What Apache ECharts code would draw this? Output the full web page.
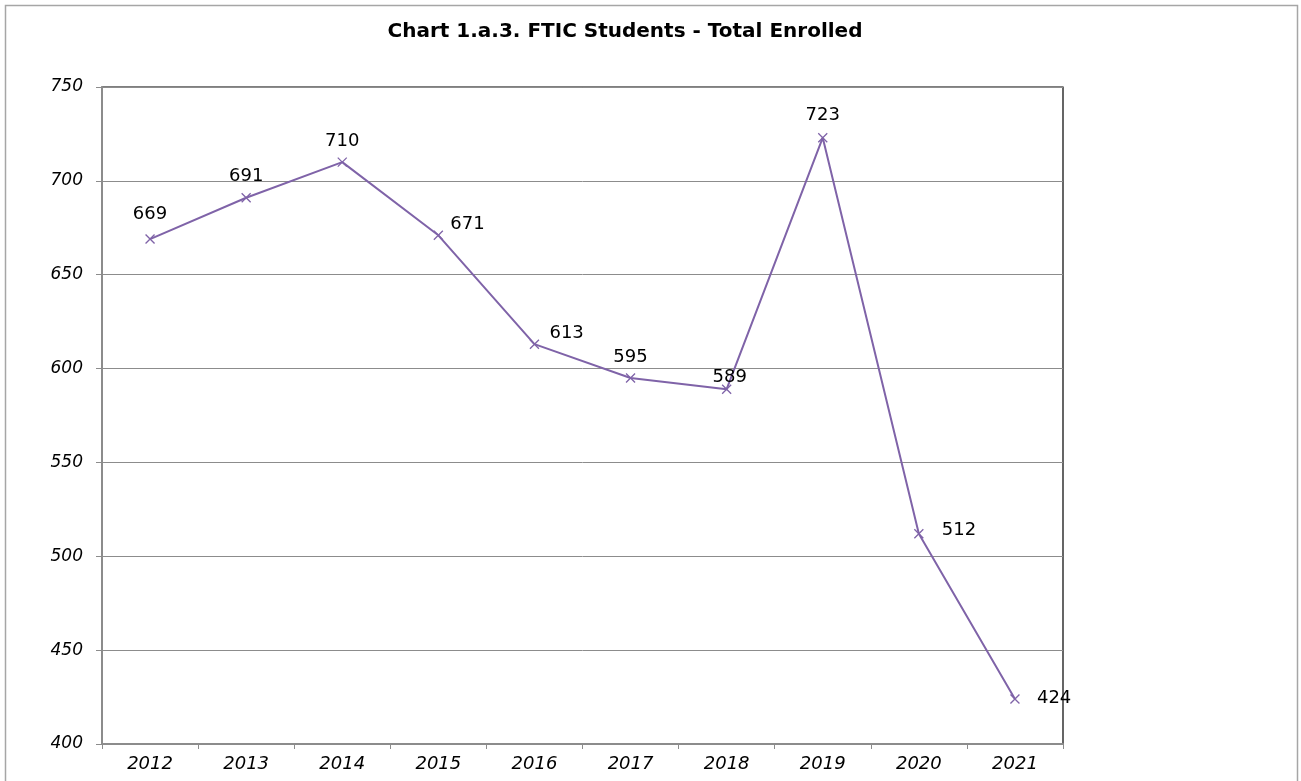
<!DOCTYPE html>
<html>
<head>
<meta charset="utf-8">
<script src="https://cdn.jsdelivr.net/npm/echarts@6/dist/echarts.min.js"></script>
<style>
  html, body { margin: 0; padding: 0; background: #fff; }
  #chart { width: 1301px; height: 781px; }
</style>
</head>
<body>
<div id="chart"></div>
<script>
// data
const years = ["2012", "2013", "2014", "2015", "2016", "2017", "2018", "2019", "2020", "2021"];
const enrolled = [669, 691, 710, 671, 613, 595, 589, 723, 512, 424];

// label placement per point, as Excel left them: [side, distance, dx, dy]
const labelPlace = [
  ["top", 9, 0, 0],
  ["top", 5, 0, 0],
  ["top", 5, 0, 0],
  ["right", 5, 0, -11],
  ["right", 8, 0, -11],
  ["top", 5, 0, 0],
  ["top", -4, 3, 0],
  ["top", 6, 0, 0],
  ["right", 16, 0, -3],
  ["right", 15, 0, -1],
];

const chart = echarts.init(document.getElementById("chart"));

const seriesData = enrolled.map((v, i) => {
  const p = labelPlace[i];
  return {
    value: v,
    label: { position: p[0], distance: p[1], offset: [p[2], p[3]] },
  };
});

chart.setOption({
  animation: false,
  textStyle: { fontFamily: "DejaVu Sans" },
  graphic: [{
    type: "rect",
    shape: { x: 5.5, y: 5.5, width: 1292, height: 800 },
    style: { fill: null, stroke: "#a6a6a6", lineWidth: 1.5 },
    silent: true,
  }],
  title: {
    text: "Chart 1.a.3. FTIC Students - Total Enrolled",
    left: 620,
    textAlign: "center",
    top: 17,
    textStyle: { fontSize: 20, fontWeight: "bold", color: "#000", fontFamily: "DejaVu Sans" },
  },
  grid: {
    left: 102, right: 238, top: 87, bottom: 37,
    show: true, borderColor: "#000", borderWidth: 1.2,
  },
  xAxis: {
    type: "category",
    data: years,
    boundaryGap: true,
    axisLine: { lineStyle: { color: "#8c8c8c", width: 2 } },
    axisTick: { show: true, length: 5, lineStyle: { color: "#8c8c8c" } },
    axisLabel: { fontSize: 18, fontStyle: "italic", color: "#000", margin: 11 },
  },
  yAxis: {
    type: "value",
    min: 400, max: 750, interval: 50,
    axisLine: { show: true, lineStyle: { color: "#8c8c8c", width: 2 } },
    axisTick: { show: true, length: 6, lineStyle: { color: "#8c8c8c" } },
    axisLabel: { fontSize: 17, fontStyle: "italic", color: "#000", margin: 19 },
    splitLine: { lineStyle: { color: "#8c8c8c", width: 1 } },
  },
  series: [{
    type: "line",
    data: seriesData,
    symbol: "path://M0,0L10,10M10,0L0,10",
    symbolSize: 9,
    showAllSymbol: true,
    lineStyle: { color: "#7f63a8", width: 2 },
    itemStyle: { color: "none", borderColor: "#7f63a8", borderWidth: 1.3 },
    label: { show: true, fontSize: 18, color: "#000" },
  }],
});
</script>
</body>
</html>
